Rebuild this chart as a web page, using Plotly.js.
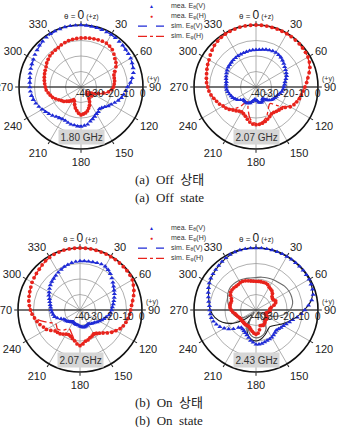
<!DOCTYPE html>
<html>
<head>
<meta charset="utf-8">
<script src="https://cdn.plot.ly/plotly-3.0.1.min.js"></script>
<style>
  html, body { margin: 0; padding: 0; background: #fff; }
  #chart { width: 338px; height: 427px; }
</style>
</head>
<body>
<div id="chart"></div>
<script>
// Radiation patterns (dB), theta measured clockwise from +z (top) toward +y (right).
// Measured points every 5 deg, simulated curves every 10 deg (closed at 360).

const angMea = Array.from({length: 72}, (_, i) => i * 5);
const angSim = Array.from({length: 37}, (_, i) => i * 10);

const freqLabels = ['1.80 GHz', '2.07 GHz', '2.07 GHz', '2.43 GHz'];
const legendNames = ['mea. E<sub>θ</sub>(V)', 'mea. E<sub>φ</sub>(H)', 'sim. E<sub>θ</sub>(V)', 'sim. E<sub>φ</sub>(H)'];
const radialTicks = [-40, -30, -20, -10, 0];
const angularTicks = [0, 30, 60, 90, 120, 150, 180, 210, 240, 270, 300, 330];

// (a) Off state, 1.80 GHz
const off180_meaTheta = [0,-0.2,-0.4,-0.5,-0.7,-0.9,-1,-1.3,-1.7,-2,-2.4,-2.7,-3,-3.6,-4.2,-5,-6.5,-8,-10,-11,-12,-13,-14.5,-16,-17.5,-18.5,-20,-21,-21.5,-20.5,-20,-19,-18,-17,-15.5,-15,-14.5,-14.5,-15,-15,-15.5,-16,-16,-15.5,-15,-14,-13,-12,-11,-10,-9,-8,-7.5,-7.2,-7,-6.8,-6.5,-6,-5.5,-5,-4.5,-3.7,-3,-2,-1.5,-1,-0.5,-0.3,-0.2,0,0,-0.1];
const off180_meaPhi = [-8.4,-8.2,-8,-7.8,-7.6,-7.4,-7.3,-7.8,-8.6,-10,-11.5,-12.5,-14,-16,-17.4,-17.8,-18,-18.5,-19,-20,-22,-25,-28,-30,-32,-33,-31,-33,-34,-31,-29,-27,-25.5,-24,-23,-22.5,-22,-23,-24.5,-26,-28,-30,-30.5,-29,-28,-27,-25.5,-24.7,-23.5,-22,-20.5,-19.5,-18.5,-17.5,-17,-16.5,-16,-15.5,-15,-14.5,-14,-13,-12.3,-11.6,-11.2,-11,-10.7,-10,-9.5,-9,-8.8,-8.6];
const off180_simTheta = [0,-0.3,-0.7,-1.1,-1.7,-2.4,-3.1,-4.3,-6.3,-9.5,-12,-14.5,-17.5,-20,-21.5,-20.5,-18.5,-16.5,-15,-15,-15.8,-16.3,-15.5,-13.5,-11.5,-9.5,-8,-7.2,-6.6,-5.6,-4.6,-3.1,-1.7,-0.7,-0.2,0,0];
const off180_simPhi = [-8.5,-8,-7.6,-7.5,-8.5,-11,-13.5,-16.5,-18,-19.5,-22,-27,-33,-36,-33,-28,-25,-23,-22.5,-24,-27,-31,-29,-26,-23.5,-21,-18.5,-17,-16,-15,-14,-12.5,-11.3,-10.5,-9.5,-9,-8.5];

// (a) Off state, 2.07 GHz
const off207_meaTheta = [-16,-15.8,-15.5,-15,-14.7,-14.4,-14.3,-14.6,-15,-15.8,-16.6,-17.4,-18,-18.5,-19,-20,-21,-21.5,-22,-22.4,-23,-24,-25,-25.5,-26,-26.5,-27,-28,-29,-30,-31,-30,-29.5,-29.5,-30,-31,-31.5,-32,-31,-30,-29,-28.5,-28,-28,-28.4,-28.4,-27,-25.5,-24.5,-23.5,-23,-22.2,-21.5,-21,-20.8,-20.7,-20.6,-20,-19.5,-19,-18.5,-18,-17.8,-17.5,-17.2,-17,-16.8,-16.7,-16.6,-16.4,-16.2,-16.1];
const off207_meaPhi = [0,0,-0.1,-0.2,-0.2,-0.3,-0.3,-0.4,-0.5,-0.6,-0.8,-1,-1.3,-2,-3,-4.5,-6,-7.2,-8.4,-9.5,-10.3,-11,-12,-13,-14.5,-17,-18.5,-19,-19.5,-20,-20,-19,-18,-17,-16.3,-15.8,-15.7,-16,-17,-18.5,-20,-21,-21.5,-21,-20,-19,-17.5,-16.3,-15.5,-14,-13,-11.8,-10.5,-9.5,-8.8,-8,-7.5,-7,-6.3,-5.6,-5,-4,-3,-2,-1.4,-0.9,-0.5,-0.3,-0.2,0,0,0];
const off207_simTheta = [-16.5,-15.5,-14.8,-14.5,-15.2,-16.5,-18,-19.3,-21,-22.3,-23.3,-25,-26.5,-28,-30,-32,-31,-31,-33,-32,-30,-28.5,-28,-27,-25,-23,-21.8,-21,-20.5,-19.7,-18.7,-18,-17.4,-17,-16.8,-16.6,-16.5];
const off207_simPhi = [0,-0.1,-0.3,-0.4,-0.6,-0.9,-1.5,-3.2,-6.2,-8.6,-10.5,-12.5,-15,-21,-26,-24,-20,-17,-16.5,-19,-25,-29,-23,-18,-15.5,-13,-10.5,-8.8,-7.6,-6.4,-5,-3,-1.5,-0.6,-0.2,0,0];

// (b) On state, 2.07 GHz
const on207_meaTheta = [-8.4,-8.3,-8.2,-8,-7.7,-7.4,-7.5,-8.3,-9.5,-11,-12.3,-13.5,-14.6,-15.5,-16.5,-17.4,-18.2,-19,-19.6,-20.2,-21,-22.5,-23.5,-24.5,-25.5,-26.5,-27.5,-28,-28.5,-29,-29.5,-29,-28.8,-28.6,-28.6,-29,-29.5,-30,-30.2,-30.3,-30.5,-31,-31,-30.5,-30,-29.3,-28.8,-28.4,-28,-26.5,-24.5,-23,-22.4,-21.8,-21.3,-21,-20.5,-19.8,-19,-17.8,-17,-16,-15,-14.2,-13.5,-12.8,-12,-11.2,-10.3,-9.7,-9.1,-8.7];
const on207_meaPhi = [0,0,0,-0.1,-0.2,-0.2,-0.3,-0.3,-0.4,-0.5,-0.5,-0.7,-1,-2,-3,-4.2,-5.5,-6.6,-7.3,-7.8,-8.5,-9.3,-10.2,-11.5,-13.3,-15,-17,-19,-20.5,-21.5,-22,-21.5,-21,-20,-19.6,-18,-17,-18,-19.8,-21,-22,-22.5,-22,-21,-20,-19.5,-19,-17,-15,-14,-12.5,-11.3,-10.2,-9,-8,-7.2,-6.5,-6,-5.5,-5,-4.3,-3.8,-3.3,-2.8,-2,-1.3,-0.8,-0.4,-0.2,0,0,0];
const on207_simTheta = [-8.6,-8.3,-7.8,-7.8,-9.6,-12.5,-14.8,-16.6,-18.4,-19.8,-21.2,-23.5,-25.8,-27.8,-29,-30,-29.5,-29.5,-30.5,-31,-31.5,-32,-31,-29.5,-28,-25,-22.6,-21.5,-20.7,-19.2,-17.2,-15.2,-13.7,-12.2,-10.5,-9.3,-8.6];
const on207_simPhi = [0,0,-0.2,-0.3,-0.4,-0.6,-1.1,-3.1,-5.6,-7.4,-8.6,-10.4,-13.5,-17.5,-21,-23,-21.5,-20,-17.5,-20.5,-24,-26,-23,-21,-22,-17,-10.5,-8.1,-6.6,-5.6,-4.4,-3.4,-2.1,-0.9,-0.2,0,0];

// (b) On state, 2.43 GHz
const on243_meaTheta = [0,0,0,0,-0.1,-0.1,-0.2,-0.2,-0.3,-0.3,-0.3,-0.4,-0.5,-0.8,-1.2,-1.8,-3.5,-6,-8.5,-10.5,-13,-15.5,-17,-18.5,-19.6,-20.3,-21,-21.5,-21,-20.3,-19.6,-19.2,-19,-18.5,-18,-17.8,-17.8,-19,-20,-21.5,-22.8,-23.7,-24.5,-25,-25.2,-24,-21,-18.5,-16.3,-14.3,-12.8,-11.6,-10.8,-10.4,-10.2,-9.8,-9,-8.2,-7.2,-6.2,-5.2,-4.4,-3.8,-3.2,-2.6,-1.8,-1.2,-0.5,-0.2,0,0,0];
const on243_meaPhi = [-21.5,-21.5,-21.5,-21.5,-21.5,-22,-23,-23.5,-24,-25,-26.5,-27,-27,-26,-26.5,-28,-30,-31,-31,-31,-32,-33,-33.5,-33,-32,-31.5,-31,-31.5,-31,-30,-29.5,-29,-29.5,-29.5,-27,-25,-24.3,-25,-26,-27,-28,-28.5,-28.5,-28.4,-28.5,-28.6,-28.6,-28.6,-28.6,-28.3,-27.6,-27,-26.3,-25,-24,-23.2,-23,-23,-23.2,-22.5,-21,-20,-19.8,-19.8,-20,-20,-19.6,-19.6,-20,-20.5,-21,-21.3];
const on243_simTheta = [0,0,-0.1,-0.2,-0.3,-0.3,-0.5,-1.3,-3.8,-8.8,-13.5,-18,-21.5,-24.5,-26,-25,-23,-21,-20,-21,-24,-29,-36,-31,-23,-17,-13,-10.5,-9.2,-7.4,-5.3,-3.9,-2.7,-1.3,-0.3,0,0];
const on243_simPhi = [-19,-18.5,-18,-17.5,-17,-16,-15.5,-15.5,-16,-18,-22,-28,-35,-38,-32,-27,-24,-22.5,-22,-23,-26,-32,-38,-35,-30,-27,-25,-23.5,-22,-20.5,-19,-18,-17.8,-18,-18.5,-19,-19];

const panels = [
  {mt: off180_meaTheta, mp: off180_meaPhi, st: off180_simTheta, sp: off180_simPhi, cx: 81, cy: 87},
  {mt: off207_meaTheta, mp: off207_meaPhi, st: off207_simTheta, sp: off207_simPhi, cx: 256, cy: 87},
  {mt: on207_meaTheta, mp: on207_meaPhi, st: on207_simTheta, sp: on207_simPhi, cx: 80, cy: 310},
  {mt: on243_meaTheta, mp: on243_meaPhi, st: on243_simTheta, sp: on243_simPhi, cx: 256, cy: 310, dark: true}
];

const W = 338, H = 427, R = 62;
const BLUE = '#1f2bd6', RED = '#e8231c';
const SANS = 'Liberation Sans, Arial, sans-serif';
const px = x => x / W;
const py = y => 1 - y / H;
const rMin = radialTicks[0], rMax = radialTicks[radialTicks.length - 1];

const traces = [];
const layout = {
  width: W, height: H,
  margin: {l: 0, r: 0, t: 0, b: 0},
  paper_bgcolor: '#fff',
  showlegend: false,
  font: {family: SANS, color: '#222'},
  annotations: [],
  shapes: []
};

panels.forEach((p, i) => {
  const sub = i === 0 ? 'polar' : 'polar' + (i + 1);
  layout[sub] = {
    domain: {x: [px(p.cx - R), px(p.cx + R)], y: [py(p.cy + R), py(p.cy - R)]},
    bgcolor: '#fff',
    angularaxis: {
      rotation: 90, direction: 'clockwise',
      tickmode: 'array', tickvals: angularTicks,
      ticktext: angularTicks.map(a => a === 0 ? ' ' : String(a)),
      tickfont: {size: 11, family: SANS, color: '#222'},
      ticks: 'outside', ticklen: 3, tickcolor: '#222',
      showline: true, linecolor: '#111', linewidth: 1.6,
      gridcolor: '#9a9a9a', gridwidth: 0.8,
      layer: 'below traces'
    },
    radialaxis: {
      range: [rMin, rMax],
      tickmode: 'array', tickvals: radialTicks,
      showticklabels: false, ticks: '', showline: false,
      gridcolor: '#9a9a9a', gridwidth: 0.8,
      layer: 'below traces'
    }
  };

  // horizontal 270-90 reference line through the origin
  traces.push({
    type: 'scatterpolar', subplot: sub, mode: 'lines',
    r: [rMax, rMin, rMax], theta: [270, 90, 90],
    line: {color: '#111', width: 1}, hoverinfo: 'skip'
  });

  traces.push({
    type: 'scatterpolar', subplot: sub, mode: 'lines', name: 'sim. Eθ(V)',
    r: p.st, theta: angSim,
    line: p.dark ? {color: '#1a1a1a', width: 1.1, shape: 'spline'}
                 : {color: BLUE, width: 1.3, dash: 'dash', shape: 'spline'}
  });
  traces.push({
    type: 'scatterpolar', subplot: sub, mode: 'lines', name: 'sim. Eφ(H)',
    r: p.sp, theta: angSim,
    line: p.dark ? {color: '#6a6a6a', width: 1.1, shape: 'spline'}
                 : {color: RED, width: 1.3, dash: 'dashdot', shape: 'spline'}
  });
  traces.push({
    type: 'scatterpolar', subplot: sub, mode: 'markers', name: 'mea. Eθ(V)',
    r: p.mt, theta: angMea,
    marker: {symbol: 'triangle-up', size: 4.5, color: BLUE}
  });
  traces.push({
    type: 'scatterpolar', subplot: sub, mode: 'markers', name: 'mea. Eφ(H)',
    r: p.mp, theta: angMea,
    marker: {symbol: 'circle', size: 3.8, color: RED}
  });

  // radial (dB) tick labels along the 90 deg direction, just below the axis line
  radialTicks.forEach(t => {
    layout.annotations.push({
      xref: 'paper', yref: 'paper',
      x: px(p.cx + R * (t - rMin) / (rMax - rMin) + (t === rMin ? 2 : 0)), y: py(p.cy + 6),
      text: String(t), showarrow: false,
      font: {size: 10, family: SANS, color: '#222'},
      xanchor: 'center', yanchor: 'middle'
    });
  });

  // frequency tag
  layout.annotations.push({
    xref: 'paper', yref: 'paper', x: px(p.cx), y: py(p.cy + 50),
    text: freqLabels[i], showarrow: false,
    font: {size: 10, family: SANS, color: '#333'},
    bgcolor: '#d6d6d6', borderpad: 1.5, xanchor: 'center', yanchor: 'middle'
  });
  // theta = 0 (+z) marker
  layout.annotations.push({
    xref: 'paper', yref: 'paper', x: px(p.cx), y: py(p.cy - 72),
    text: '<span style="font-size:8px">θ = </span>0<span style="font-size:7px"> (+z)</span>',
    showarrow: false, font: {size: 12, family: SANS, color: '#222'},
    xanchor: 'center', yanchor: 'middle'
  });
  // (+y) direction
  layout.annotations.push({
    xref: 'paper', yref: 'paper', x: px(p.cx + 72), y: py(p.cy - 8),
    text: '(+y)', showarrow: false, font: {size: 7, family: SANS, color: '#333'},
    xanchor: 'center', yanchor: 'middle'
  });
});

// Two legend blocks, between each pair of panels
[5.5, 227.5].forEach(y0 => {
  const rows = [0, 1, 2, 3].map(k => y0 + k * 10.3);
  layout.annotations.push({xref: 'paper', yref: 'paper', x: px(151), y: py(rows[0]),
    text: '▲', showarrow: false, font: {size: 5, color: BLUE}, xanchor: 'center', yanchor: 'middle'});
  layout.annotations.push({xref: 'paper', yref: 'paper', x: px(151), y: py(rows[1]),
    text: '●', showarrow: false, font: {size: 5, color: RED}, xanchor: 'center', yanchor: 'middle'});
  layout.shapes.push({type: 'line', xref: 'paper', yref: 'paper', x0: px(138), x1: px(164),
    y0: py(rows[2]), y1: py(rows[2]), line: {color: BLUE, width: 1.2, dash: 'dash'}});
  layout.shapes.push({type: 'line', xref: 'paper', yref: 'paper', x0: px(138), x1: px(164),
    y0: py(rows[3]), y1: py(rows[3]), line: {color: RED, width: 1.2, dash: 'dashdot'}});
  legendNames.forEach((name, k) => {
    layout.annotations.push({xref: 'paper', yref: 'paper', x: px(169), y: py(rows[k]),
      text: name, showarrow: false, font: {size: 7, family: SANS, color: '#333'},
      xanchor: 'left', yanchor: 'middle'});
  });
});

// Captions
const SERIF = 'Liberation Serif, Times New Roman, Noto Sans CJK KR, serif';
[['(a)  Off  상태', 179], ['(a)  Off  state', 197], ['(b)  On  상태', 402], ['(b)  On  state', 420]].forEach(([t, y]) => {
  layout.annotations.push({xref: 'paper', yref: 'paper', x: 0.5, y: py(y),
    text: t, showarrow: false, font: {size: 13, family: SERIF, color: '#222'},
    xanchor: 'center', yanchor: 'middle'});
});

Plotly.newPlot('chart', traces, layout, {staticPlot: true, displayModeBar: false});
</script>
</body>
</html>
